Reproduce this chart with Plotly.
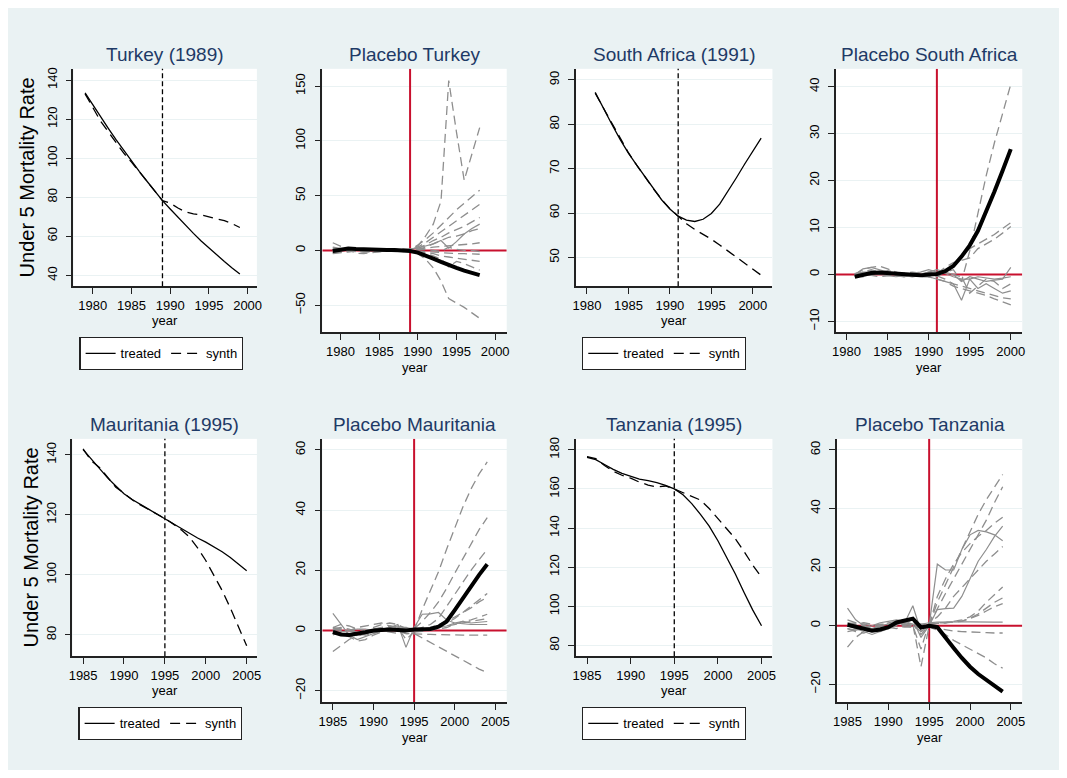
import plotly.graph_objects as go

# ---------------- data ----------------
TUR_YEARS = list(range(1979, 2000))
TUR_TREATED = [133.5, 127.3, 121.2, 115.3, 109.5, 104.0, 98.6, 93.3, 88.2, 83.2, 78.3,
               74.0, 69.7, 65.5, 61.5, 57.6, 54.0, 50.5, 47.1, 43.8, 40.7]
TUR_SYNTH = [133.0, 126.0, 119.0, 113.5, 107.8, 102.6, 98.0, 93.0, 88.0, 83.0, 78.3,
             77.0, 74.5, 72.5, 71.5, 71.0, 70.0, 69.0, 68.0, 66.5, 64.5]
TUR_GAP_YEARS = list(range(1979, 1999))
TUR_GAP = [-0.5, 0.8, 1.8, 1.2, 0.8, 0.5, 0.5, 0.3, 0.3, 0.0, -0.5,
           -2.0, -4.5, -7.5, -10.5, -13.5, -16.0, -18.5, -20.8, -22.5]
TUR_PLACEBO_DASH = [
    [-2, -1, 0.5, 1, 0, -1, -0.5, 0.5, 0, -0.5, 0.5, 4, 13, 24, 45, 155, 108, 64, 88, 112],
    [1, 0.5, 0, -0.5, -1, -0.5, 0, 0.5, 0.5, 0, 0, 5, 10, 16, 23, 30, 37, 43, 49, 55],
    [7, 4, 1, -2.5, -3, -2, -1, 0, 0.5, 1, 0.5, 3, 7, 12, 17, 22, 27, 32, 37, 42],
    [-1, 0, 1, 1.5, 1, 0.5, 0, -0.5, -1, -0.5, 0, 2, 5, 9, 12, 16, 19, 22, 26, 30],
    [2, 1.5, 1, 0, -1, -1.5, -1, 0, 1, 1.5, 1, 1, 3, 6, 9, 12, 13, 15, 18, 20],
    [-3, -2, -1, -0.5, 0, 0.5, 0.5, 0, -0.5, 0, 0.5, 1, 2, 3, 3.5, 4, 5, 5.5, 6, 7],
    [0, 1, 2, 1.5, 0.5, 0, -0.5, -1, -0.5, 0, 0, 0.5, 1, 0, -1, 3, 1, 0, 0, -1],
    [3, 2, 0.5, -1, -1.5, -1, 0, 0.5, 1, 0.5, 0, -1, -1, -2, -2, -3, -3, -3, -3, -3.5],
    [-1.5, -1, 0, 1, 1.5, 1, 0.5, 0, -0.5, -1, -0.5, -1, -2, -3, -5, -6, -7, -8, -9, -10],
    [0.5, 0, -0.5, -1, -0.5, 0, 0.5, 1, 0.5, 0, 0, -1, -3, -5, -8, -15, -10, -12, -15, -18],
    [-2, -1.5, -1, -0.5, 0, 0.5, 0, -0.5, 0, 0.5, 0, -3, -8, -16, -28, -44, -48, -52, -57, -62],
]
TUR_PLACEBO_SOLID = [
    [1, 0.5, 0, 0.5, 1, 0.5, 0, -0.5, 0, 0.5, 1, 2, 4, 6, 9, 2, 8, 15, 20, 24],
]

SA_YEARS = list(range(1981, 2002))
SA_TREATED = [87.2, 83.5, 80.0, 76.6, 73.5, 70.8, 68.2, 65.5, 63.0, 60.9, 59.3,
              58.4, 58.1, 58.6, 59.9, 62.0, 64.8, 67.9, 71.0, 74.0, 76.9]
SA_SYNTH = [87.0, 83.6, 80.2, 76.8, 73.6, 70.8, 68.1, 65.5, 63.1, 61.0, 59.3,
            57.6, 56.3, 55.2, 54.1, 52.8, 51.4, 50.0, 48.6, 47.3, 46.0]
SA_GAP_YEARS = list(range(1981, 2001))
SA_GAP = [-0.5, 0.0, 0.3, 0.4, 0.3, 0.2, 0.0, -0.2, -0.2, 0.0, 0.1,
          0.7, 1.8, 3.8, 6.2, 9.3, 13.3, 17.6, 22.1, 26.7]
SA_PLACEBO_DASH = [
    [-0.5, 0.5, 1, 0.5, 0, -0.2, -0.3, 0, 0.2, 0.3, 0, 0.5, 1, -1.5, 5, 13, 21, 28, 34.5, 40.5],
    [0, 1, 1.5, 1.8, 1.2, 0.5, 0, -0.3, -0.5, -0.5, -0.5, 0.5, 2, 4, 5.5, 6.5, 7.5, 8.5, 9.8, 11],
    [-0.3, 0.5, 0.8, 0.5, 0.3, 0, -0.3, -0.5, -0.3, 0, 0.2, 1.5, 2.5, 3, 3.5, 5.5, 6.5, 7.5, 8.8, 10.2],
    [-0.2, -0.5, 0, 0.5, 0.8, 0.5, 0, -0.2, 0, 0.2, -0.3, -1, -2, -2.5, -3, -3.5, -4, -4.5, -5, -5.2],
    [0.2, 0.3, -0.2, -0.5, -0.3, 0, 0.3, 0.5, 0.3, -0.5, -1, -1.5, -2.5, -3, -3.5, -4, -4.5, -5.2, -5.8, -6.5],
    [-0.5, 0, 0.5, 0.3, 0, -0.3, -0.5, -0.2, 0, 0.5, 0.5, 0.3, 0, -0.5, -4, -2.5, -1, -1.5, -3, -2],
]
SA_PLACEBO_SOLID = [
    [0, 1.2, 1.5, 1, 0.5, 0, -0.5, -0.3, 0, 0.5, 1, 0.5, 0, -1.5, -0.5, -1, -1.5, -1.2, -1, 1.5],
    [0, 0.3, 0.2, 0, -0.2, -0.5, -0.3, -0.2, 0, -0.5, -1, -1.5, -2, -5.5, -1, -3, -2, -3, -4, -3.5],
    [0, 0.5, 0.5, 0.3, 0.2, 0, 0, 0.2, 0.5, 1.0, 0.5, 0.2, -0.5, -1, -1, -0.5, -0.8, -1, -0.8, -0.5],
]

MR_YEARS = list(range(1985, 2006))
MR_TREATED = [141.7, 138.5, 135.3, 132.3, 129.6, 127.0, 125.1, 123.4, 121.9, 120.3, 118.7,
              117.0, 115.3, 113.8, 112.3, 110.9, 109.3, 107.7, 105.8, 103.7, 101.4]
MR_SYNTH = [142.0, 138.0, 135.8, 132.6, 129.2, 127.2, 125.0, 123.3, 121.8, 120.3, 118.8,
            117.0, 115.0, 112.6, 109.0, 104.8, 100.0, 94.8, 89.0, 83.0, 76.4]
MR_GAP_YEARS = list(range(1985, 2005))
MR_GAP = [-0.5, -1.3, -1.5, -1.2, -0.6, 0.0, 0.3, 0.3, 0.2, 0.0, 0.3,
          0.3, 0.5, 1.3, 3.0, 6.8, 10.7, 14.8, 18.5, 22.0]
MR_PLACEBO_DASH = [
    [1, 2, 1.5, 0.5, 0, 1, 2, 2.5, 2, 0.5, 0, 7, 13, 19.5, 27, 34, 41, 47, 52, 56],
    [-1, -0.5, 0, 1, 1.5, 2, 2.5, 1.5, 1, 0, 0.5, 3, 6, 9.5, 14, 19, 24, 29, 33.5, 37.5],
    [0.5, 1, 0.5, -0.5, -1, -0.5, 0, 0.5, 0.5, 0, 0, 1, 2, 4, 8, 12, 16, 20, 23.5, 27],
    [-7, -5, -3, -1.5, -1, -0.5, 0, 0.5, 1, 0.5, 0, 0.5, 1, 1.5, 2.5, 4, 6, 8, 10, 12.3],
    [0, -1, -2, -3.5, -3, -1.5, -0.5, 0, 0.5, 1, 0.5, 0.5, 1, 2, 3, 4.5, 6, 7.5, 9.5, 11],
    [-1, -1.5, -2, -1, 0, 0.5, 0, -0.5, -1, 0, -0.5, -0.3, 0, 0.5, 1, 2, 3, 3.5, 4.5, 5.4],
    [0.5, 0, -1, -2, -1, 0, 1, 0.5, 0, -1, -1, -1.2, -1.3, -1.4, -1.4, -1.4, -1.5, -1.5, -1.5, -1.5],
    [0, 0.5, 0, -1, -1.5, -1, 0, 0.5, 0, -1, -1, -2.5, -4, -5.5, -7, -8.5, -10, -11.5, -12.8, -14],
    [1, 0.5, 0, -0.5, 0, 0.5, 1, 1.5, 1, -3, -0.5, 0, 0.5, 1, 1.5, 2, 2.5, 3, 3.5, 4],
]
MR_PLACEBO_SOLID = [
    [5.7, 2, -1.5, -3, -2, -1, 0, 1, 2, -5.6, 1, 5.4, 5.5, 6, 3.5, 2.5, 2.2, 2, 2, 2],
    [-1.5, -0.5, 0, 0.5, 0.5, 0, 0.5, 1, 1.5, 1, 0.5, 0.5, 0.8, 1, 1.5, 2.5, 3, 2.5, 2.8, 3],
]

TZ_YEARS = list(range(1985, 2006))
TZ_TREATED = [176.2, 175.0, 172.5, 170.0, 168.0, 166.3, 165.0, 164.2, 163.2, 161.8, 160.0,
              157.0, 152.5, 147.0, 141.0, 133.5, 125.0, 116.5, 107.0, 98.0, 90.0]
TZ_SYNTH = [176.5, 175.5, 172.0, 169.0, 167.0, 165.5, 163.5, 162.0, 161.0, 161.5, 160.0,
            158.0, 156.0, 154.3, 150.0, 144.7, 140.0, 134.5, 128.0, 121.0, 114.8]
TZ_GAP_YEARS = list(range(1985, 2005))
TZ_GAP = [0.3, -0.3, -0.8, -1.7, -1.3, -0.5, 1.1, 1.8, 2.4, -0.6, 0.0,
          -0.5, -3.8, -7.6, -11.0, -14.0, -16.5, -18.5, -20.5, -22.5]
TZ_PLACEBO_DASH = [
    [-7.3, -4, -2, -1, 0, 0.5, 1, 1, 0.5, -3, 0, 8, 14, 20, 26, 32, 38, 43, 47.5, 51.6],
    [2, 1, 0, -1, -1.5, -1, 0, 0.5, 0, -1, 0.5, 6, 11, 16, 21, 26, 31, 36, 42, 47.4],
    [-1, -2, -2.5, -1.5, 0, 1, 1.5, 1, 0.5, -14, 0, 10, 16, 21, 25, 28, 30.5, 32.5, 35, 37],
    [0.5, 0, -0.5, -1, -0.5, 0, 0.5, 0.5, 0, -8, 1, 3, 6, 10, 13, 16, 19, 22, 24.5, 27],
    [1, 0.5, 0, -0.5, -1, 0, 1.5, 2, 1, -1, 0.5, 1, 1, 1.5, 2, 3, 5, 8, 10.5, 13.2],
    [-2, -1.5, -1, 0, 0.5, 0.5, 0, -0.5, -0.5, 0, 0.3, 0.8, 1, 1.2, 1.5, 2.5, 4, 6, 8, 9.5],
    [0, 0.5, 1, 0.5, 0, -0.5, -1, 0, 1, 0.5, 0.5, 0.8, 1, 1.2, 1.6, 2.5, 3.5, 5, 6.5, 7.5],
    [0, -0.5, -1, -1.5, -1, 0, 0.5, 0, -0.5, 0, -0.5, -1, -1.5, -1.8, -2, -2.2, -2.3, -2.4, -2.5, -2.5],
    [0.5, 1, 0.5, 0, -0.5, 0, 0.5, 0.5, 0, -2, -0.5, -1.5, -3, -5, -6.5, -8, -9.5, -11, -13, -14.5],
]
TZ_PLACEBO_SOLID = [
    [6, 2, 0, -1, -2, -1, 0.5, 1, 6.8, -2, 0, 21, 19, 19, 26, 31, 32.5, 32, 31, 29],
    [0, -1, -2, -3, -2, -0.5, 0.5, 1, 2, -4, 0, 5.5, 5.8, 6, 10, 16, 22, 26, 30.5, 34],
    [-1, -1.5, -1, 0, 1, 1.5, 2, 1.5, 0.5, 0.5, 1, 1.2, 1.3, 1.3, 1.3, 1.3, 1.2, 1.2, 1.2, 1.2],
]

TITLES = ["Turkey (1989)", "Placebo Turkey", "South Africa (1991)", "Placebo South Africa",
          "Mauritania (1995)", "Placebo Mauritania", "Tanzania (1995)", "Placebo Tanzania"]
TREAT_YEARS = [1989, 1991, 1995, 1995]
YTITLE = "Under 5 Mortality Rate"

# ---------------- layout geometry ----------------
# The page body keeps its default 8px margin, so the figure is sized to fit the
# 1067x778 window exactly; positions below are in window pixels.
PAGE_W, PAGE_H, BODY_MARGIN = 1067, 778, 8
W, H = PAGE_W - 2 * BODY_MARGIN, PAGE_H - 2 * BODY_MARGIN


def px(xp):
    return (xp - BODY_MARGIN) / W


def py(yp):
    return 1 - (yp - BODY_MARGIN) / H


def axid(letter, n):
    return letter if n == 1 else f"{letter}{n}"


BOXES = [  # x0, x1, y0, y1 (window px)
    (70, 255, 67, 285), (321, 507, 67, 331), (577, 775, 67, 285), (839, 1027, 67, 331),
    (69, 255, 438, 656), (321, 507, 438, 702), (577, 775, 438, 656), (840, 1027, 438, 702),
]
XRANGES = [(1977.5, 2001.2), (1977.65, 2001.5), (1978.7, 2002.36), (1978.7, 2001.4),
           (1983.7, 2006.25), (1983.7, 2006.4), (1983.75, 2006.25), (1983.7, 2006.4)]
YRANGES = [(34.4, 145.8), (-74.6, 165.7), (43.5, 92.5), (-12.3, 43.8),
           (72.9, 145.3), (-23.8, 63.65), (74.4, 185.6), (-26.1, 63.75)]
XTICKS = [[1980, 1985, 1990, 1995, 2000]] * 4 + [[1985, 1990, 1995, 2000, 2005]] * 4
YTICKS = [[40, 60, 80, 100, 120, 140], [-50, 0, 50, 100, 150], [50, 60, 70, 80, 90],
          [-10, 0, 10, 20, 30, 40], [80, 100, 120, 140], [-20, 0, 20, 40, 60],
          [80, 100, 120, 140, 160, 180], [-20, 0, 20, 40, 60]]

FONT = "Liberation Sans, Arial, sans-serif"
BG = "#EAF2F3"
NAVY = "#1E3A66"
RED = "#C8102E"
GRAY = "#8E8E8E"

fig = go.Figure()

main_sets = [(TUR_YEARS, TUR_TREATED, TUR_SYNTH), (SA_YEARS, SA_TREATED, SA_SYNTH),
             (MR_YEARS, MR_TREATED, MR_SYNTH), (TZ_YEARS, TZ_TREATED, TZ_SYNTH)]
gap_sets = [(TUR_GAP_YEARS, TUR_GAP, TUR_PLACEBO_DASH, TUR_PLACEBO_SOLID),
            (SA_GAP_YEARS, SA_GAP, SA_PLACEBO_DASH, SA_PLACEBO_SOLID),
            (MR_GAP_YEARS, MR_GAP, MR_PLACEBO_DASH, MR_PLACEBO_SOLID),
            (TZ_GAP_YEARS, TZ_GAP, TZ_PLACEBO_DASH, TZ_PLACEBO_SOLID)]
legend_names = ["legend", "legend2", "legend3", "legend4"]

shapes = []
annotations = []

for k in range(4):
    mi = 2 * k + 1       # main panel axis index
    pi = 2 * k + 2       # placebo panel axis index
    mx, my = axid("x", mi), axid("y", mi)
    qx, qy = axid("x", pi), axid("y", pi)
    ty = TREAT_YEARS[k]
    yrs, tr, sy = main_sets[k]
    fig.add_trace(go.Scatter(x=yrs, y=tr, mode="lines", name="treated",
                             line=dict(color="black", width=1.3),
                             xaxis=mx, yaxis=my, legend=legend_names[k]))
    fig.add_trace(go.Scatter(x=yrs, y=sy, mode="lines", name="synth",
                             line=dict(color="black", width=1.3, dash="10px,6px"),
                             xaxis=mx, yaxis=my, legend=legend_names[k]))
    # red reference lines (zero line and treatment year), drawn first so the
    # placebo lines sit on top of them
    xr, yr = XRANGES[pi - 1], YRANGES[pi - 1]
    fig.add_trace(go.Scatter(x=list(xr), y=[0, 0], mode="lines", showlegend=False,
                             line=dict(color=RED, width=2), hoverinfo="skip",
                             xaxis=qx, yaxis=qy))
    fig.add_trace(go.Scatter(x=[ty, ty], y=list(yr), mode="lines", showlegend=False,
                             line=dict(color=RED, width=2), hoverinfo="skip",
                             xaxis=qx, yaxis=qy))
    gy, gap, pdash, psolid = gap_sets[k]
    for series in pdash:
        fig.add_trace(go.Scatter(x=gy, y=series, mode="lines", showlegend=False,
                                 line=dict(color=GRAY, width=1.3, dash="9px,5px"),
                                 xaxis=qx, yaxis=qy, hoverinfo="skip"))
    for series in psolid:
        fig.add_trace(go.Scatter(x=gy, y=series, mode="lines", showlegend=False,
                                 line=dict(color=GRAY, width=1.2),
                                 xaxis=qx, yaxis=qy, hoverinfo="skip"))
    fig.add_trace(go.Scatter(x=gy, y=gap, mode="lines", showlegend=False,
                             line=dict(color="black", width=4),
                             xaxis=qx, yaxis=qy))
    # dashed vertical line in main panel
    shapes.append(dict(type="line", xref=mx, yref=f"{my} domain", x0=ty, x1=ty,
                       y0=0, y1=1,
                       line=dict(color="black", width=1.3, dash="5px,3px"), layer="above"))

layout_axes = {}
for i in range(8):
    x0, x1, y0, y1 = BOXES[i]
    n = i + 1
    layout_axes[f"xaxis{n}"] = dict(
        domain=[px(x0), px(x1)], range=list(XRANGES[i]), anchor=axid("y", n),
        tickvals=XTICKS[i], ticks="outside", ticklen=6, tickwidth=1.2, tickcolor="#222",
        showline=True, linecolor="#222", linewidth=1.5, showgrid=False, zeroline=False,
        tickfont=dict(size=13, color="black", family=FONT), fixedrange=True)
    layout_axes[f"yaxis{n}"] = dict(
        domain=[py(y1), py(y0)], range=list(YRANGES[i]), anchor=axid("x", n),
        tickvals=YTICKS[i], ticks="outside", ticklen=6, tickwidth=1.2, tickcolor="#222",
        showline=True, linecolor="#222", linewidth=1.5, showgrid=True, gridcolor=BG,
        gridwidth=1.2, zeroline=False, tickangle=-90, ticklabelstandoff=4,
        tickfont=dict(size=13, color="black", family=FONT), fixedrange=True)
    annotations.append(dict(text=TITLES[i], x=px((x0 + x1) / 2), y=py(53 if i < 4 else 424),
                            xref="paper", yref="paper", showarrow=False,
                            font=dict(size=19, color=NAVY, family=FONT),
                            xanchor="center", yanchor="middle"))
    yy = y1 + (34 if i % 2 == 0 else 35.5)
    annotations.append(dict(text="year", x=px((x0 + x1) / 2), y=py(yy),
                            xref="paper", yref="paper", showarrow=False,
                            font=dict(size=13, color="black", family=FONT),
                            xanchor="center", yanchor="middle"))

for xpx, i in [(23, 0), (27, 4)]:
    x0, x1, y0, y1 = BOXES[i]
    annotations.append(dict(text=YTITLE, x=px(xpx), y=py((y0 + y1) / 2),
                            xref="paper", yref="paper", showarrow=False, textangle=-90,
                            font=dict(size=20, color="black", family=FONT),
                            xanchor="center", yanchor="middle"))

legend_pos = [(76, 336), (583, 336), (75, 707), (583, 707)]
legends = {}
for name, (lx, ly) in zip(legend_names, legend_pos):
    legends[name] = dict(x=px(lx), y=py(ly), xanchor="left", yanchor="top",
                         orientation="h", bgcolor="white", bordercolor="#222", borderwidth=1.2,
                         font=dict(size=13, color="black", family=FONT),
                         itemwidth=30, tracegroupgap=0)

fig.update_layout(
    width=W, height=H, margin=dict(l=0, r=0, t=0, b=0),
    paper_bgcolor=BG, plot_bgcolor="white",
    font=dict(family=FONT, color="black"),
    shapes=shapes, annotations=annotations, showlegend=True,
    **layout_axes, **legends,
)

fig.write_html("out.html")
